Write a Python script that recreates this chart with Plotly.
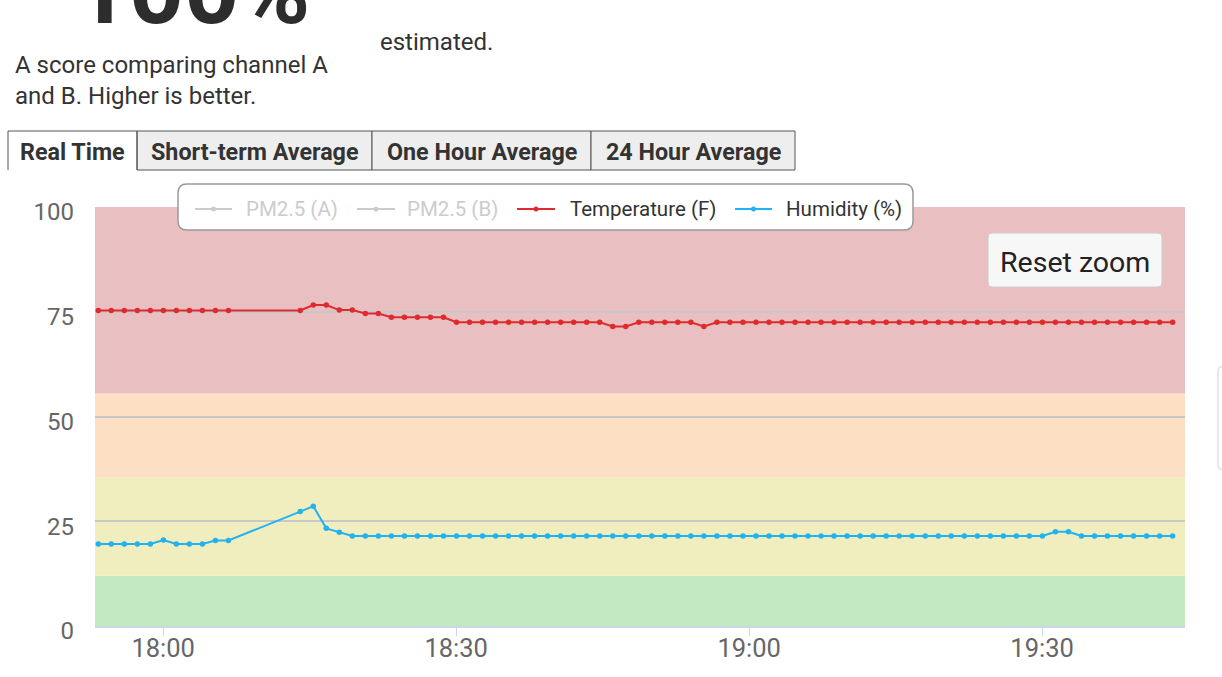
import pandas as pd
import plotly.graph_objects as go

# ---------------- data ----------------
seg1_start = "2020-01-01 17:53:21"
seg2_start = "2020-01-01 18:14:02"
sample_seconds = 80
seg1_count = 11
seg2_count = 68

temp_seg1 = [75.3, 75.3, 75.3, 75.3, 75.3, 75.3, 75.3, 75.3, 75.3, 75.3, 75.3]
temp_seg2 = [75.3, 76.6, 76.6, 75.4, 75.4, 74.6, 74.6, 73.7, 73.7, 73.7,
             73.7, 73.7, 72.5, 72.5, 72.5, 72.5, 72.5, 72.5, 72.5, 72.5,
             72.5, 72.5, 72.5, 72.5, 71.5, 71.5, 72.5, 72.5, 72.5, 72.5,
             72.5, 71.5, 72.5, 72.5, 72.5, 72.5, 72.5, 72.5, 72.5, 72.5,
             72.5, 72.5, 72.5, 72.5, 72.5, 72.5, 72.5, 72.5, 72.5, 72.5,
             72.5, 72.5, 72.5, 72.5, 72.5, 72.5, 72.5, 72.5, 72.5, 72.5,
             72.5, 72.5, 72.5, 72.5, 72.5, 72.5, 72.5, 72.5]
hum_seg1 = [19.6, 19.6, 19.6, 19.6, 19.6, 20.5, 19.6, 19.6, 19.6, 20.4, 20.4]
hum_seg2 = [27.3, 28.6, 23.3, 22.4, 21.5, 21.5, 21.5, 21.5, 21.5, 21.5,
            21.5, 21.5, 21.5, 21.5, 21.5, 21.5, 21.5, 21.5, 21.5, 21.5,
            21.5, 21.5, 21.5, 21.5, 21.5, 21.5, 21.5, 21.5, 21.5, 21.5,
            21.5, 21.5, 21.5, 21.5, 21.5, 21.5, 21.5, 21.5, 21.5, 21.5,
            21.5, 21.5, 21.5, 21.5, 21.5, 21.5, 21.5, 21.5, 21.5, 21.5,
            21.5, 21.5, 21.5, 21.5, 21.5, 21.5, 21.5, 21.5, 22.5, 22.5,
            21.5, 21.5, 21.5, 21.5, 21.5, 21.5, 21.5, 21.5]

band_edges = [0, 12, 35.5, 55.5, 100]
band_colors = ["#c2e9bf", "#f0eebf", "#fddfc4", "#e9bfc1"]

x_range = ["2020-01-01 17:53:01", "2020-01-01 19:44:38"]
x_ticks = ["2020-01-01 18:00", "2020-01-01 18:30", "2020-01-01 19:00", "2020-01-01 19:30"]
x_tick_labels = ["18:00", "18:30", "19:00", "19:30"]
y_ticks = [0, 25, 50, 75, 100]

tab_labels = ["Real Time", "Short-term Average", "One Hour Average", "24 Hour Average"]
legend_labels = ["PM2.5 (A)", "PM2.5 (B)", "Temperature (F)", "Humidity (%)"]

TEMP_COLOR = "#de2b2d"
HUM_COLOR = "#22b2ef"

# ---------------- geometry helpers ----------------
W, H = 1222, 677
L, R, T, B = 95, 37, 207, 51
PW, PH = W - L - R, H - T - B


def px(x):
    return (x - L) / PW


def py(y):
    return (H - B - y) / PH


times = list(pd.date_range(seg1_start, periods=seg1_count, freq=f"{sample_seconds}s")) + \
    list(pd.date_range(seg2_start, periods=seg2_count, freq=f"{sample_seconds}s"))
temps = temp_seg1 + temp_seg2
hums = hum_seg1 + hum_seg2

fig = go.Figure()
fig.add_trace(go.Scatter(x=times, y=temps, mode="lines+markers", name=legend_labels[2],
                         line=dict(color=TEMP_COLOR, width=2),
                         marker=dict(color=TEMP_COLOR, size=5.5), showlegend=False))
fig.add_trace(go.Scatter(x=times, y=hums, mode="lines+markers", name=legend_labels[3],
                         line=dict(color=HUM_COLOR, width=2),
                         marker=dict(color=HUM_COLOR, size=5.5), showlegend=False))

shapes = []
# AQI bands
for i, col in enumerate(band_colors):
    shapes.append(dict(type="rect", xref="paper", yref="y", x0=0, x1=1,
                       y0=band_edges[i], y1=band_edges[i + 1],
                       fillcolor=col, line=dict(width=0), layer="below"))


def rrect(x0, y0, x1, y1, r):
    X0, X1 = px(x0), px(x1)
    return (f"M {px(x0 + r)},{py(y0)} L {px(x1 - r)},{py(y0)} Q {X1},{py(y0)} {X1},{py(y0 + r)} "
            f"L {X1},{py(y1 - r)} Q {X1},{py(y1)} {px(x1 - r)},{py(y1)} "
            f"L {px(x0 + r)},{py(y1)} Q {X0},{py(y1)} {X0},{py(y1 - r)} "
            f"L {X0},{py(y0 + r)} Q {X0},{py(y0)} {px(x0 + r)},{py(y0)} Z")


# tabs
tab_edges = [8, 137, 372, 591, 795]
TAB_TOP, TAB_BOT = 131, 170
for i in range(1, 4):
    shapes.append(dict(type="rect", xref="paper", yref="paper",
                       x0=px(tab_edges[i]), x1=px(tab_edges[i + 1]), y0=py(TAB_BOT), y1=py(TAB_TOP),
                       fillcolor="#eeeeee", line=dict(color="#555555", width=1)))
shapes.append(dict(type="path", xref="paper", yref="paper",
                   path=f"M {px(8)},{py(TAB_BOT)} L {px(8)},{py(TAB_TOP)} L {px(137)},{py(TAB_TOP)} L {px(137)},{py(TAB_BOT)}",
                   line=dict(color="#555555", width=1)))

# legend box
shapes.append(dict(type="path", xref="paper", yref="paper", path=rrect(178, 184, 913, 230, 9),
                   fillcolor="white", line=dict(color="#9a9a9a", width=1.5)))
leg_lines = [(195, 232), (357, 395), (517, 555), (735, 772)]
leg_colors = ["#cccccc", "#cccccc", TEMP_COLOR, HUM_COLOR]
LEG_Y = 209
for (a, b), c in zip(leg_lines, leg_colors):
    shapes.append(dict(type="line", xref="paper", yref="paper", x0=px(a), x1=px(b),
                       y0=py(LEG_Y), y1=py(LEG_Y), line=dict(color=c, width=2)))
    m = (a + b) / 2
    shapes.append(dict(type="circle", xref="paper", yref="paper", x0=px(m - 2.5), x1=px(m + 2.5),
                       y0=py(LEG_Y + 2.5), y1=py(LEG_Y - 2.5), fillcolor=c, line=dict(width=0)))

# reset zoom button
shapes.append(dict(type="path", xref="paper", yref="paper", path=rrect(988, 233, 1162, 287, 4),
                   fillcolor="#f7f7f7", line=dict(color="#cccccc", width=1)))
# partial element at right edge
shapes.append(dict(type="path", xref="paper", yref="paper", path=rrect(1218, 366, 1260, 470, 6),
                   fillcolor="white", line=dict(color="#e2e2e2", width=1.5)))

annotations = []


def txt(text, x, y, size, color="#333333", xanchor="left", yanchor="middle", bold=False, align="left"):
    annotations.append(dict(text=f"<b>{text}</b>" if bold else text, x=px(x), y=py(y),
                            xref="paper", yref="paper", xanchor=xanchor, yanchor=yanchor, align=align,
                            showarrow=False, font=dict(family="Roboto", size=size, color=color)))


txt("100%", 72, 48, 96, color="#2d2d2d", yanchor="bottom", bold=True)
txt("estimated.", 378, 42, 24)
txt("A score comparing channel A<br>and B. Higher is better.", 13, 80, 24)
for i, lab in enumerate(tab_labels):
    txt(lab, (tab_edges[i] + tab_edges[i + 1]) / 2, 152, 23.3, xanchor="center", bold=True)
leg_text_x = [244, 405, 568, 784]
leg_text_col = ["#cccccc", "#cccccc", "#333333", "#333333"]
for lab, xx, c in zip(legend_labels, leg_text_x, leg_text_col):
    txt(lab, xx, 209, 20.5, color=c)
txt("Reset zoom", 1075, 262, 28.5, color="#222222", xanchor="center")
txt("Date", 630, 671, 24, color="#4a6ea8", xanchor="center", yanchor="top")

fig.update_layout(
    width=W, height=H, autosize=False,
    margin=dict(l=L, r=R, t=T, b=B, pad=0),
    paper_bgcolor="white", plot_bgcolor="white",
    shapes=shapes, annotations=annotations,
    font=dict(family="Roboto", color="#666666"),
    xaxis=dict(type="date", range=x_range, tickvals=x_ticks, ticktext=x_tick_labels,
               showgrid=False, zeroline=False, showline=True, linecolor="#ccd6eb", linewidth=2,
               ticks="outside", ticklen=8, tickcolor="#ccd6eb", ticklabelstandoff=-10,
               tickfont=dict(size=25.5, color="#666666")),
    yaxis=dict(range=[0, 100], tickvals=y_ticks, showgrid=True, gridcolor="#c8c8c8", gridwidth=2,
               zeroline=False, showline=False, ticks="", ticklabelstandoff=20, ticklabelshift=5,
               tickfont=dict(size=24, color="#666666")),
    showlegend=False,
)

fig.write_html("out.html", config={"displayModeBar": False},
               post_script="document.body.style.margin='0';")
